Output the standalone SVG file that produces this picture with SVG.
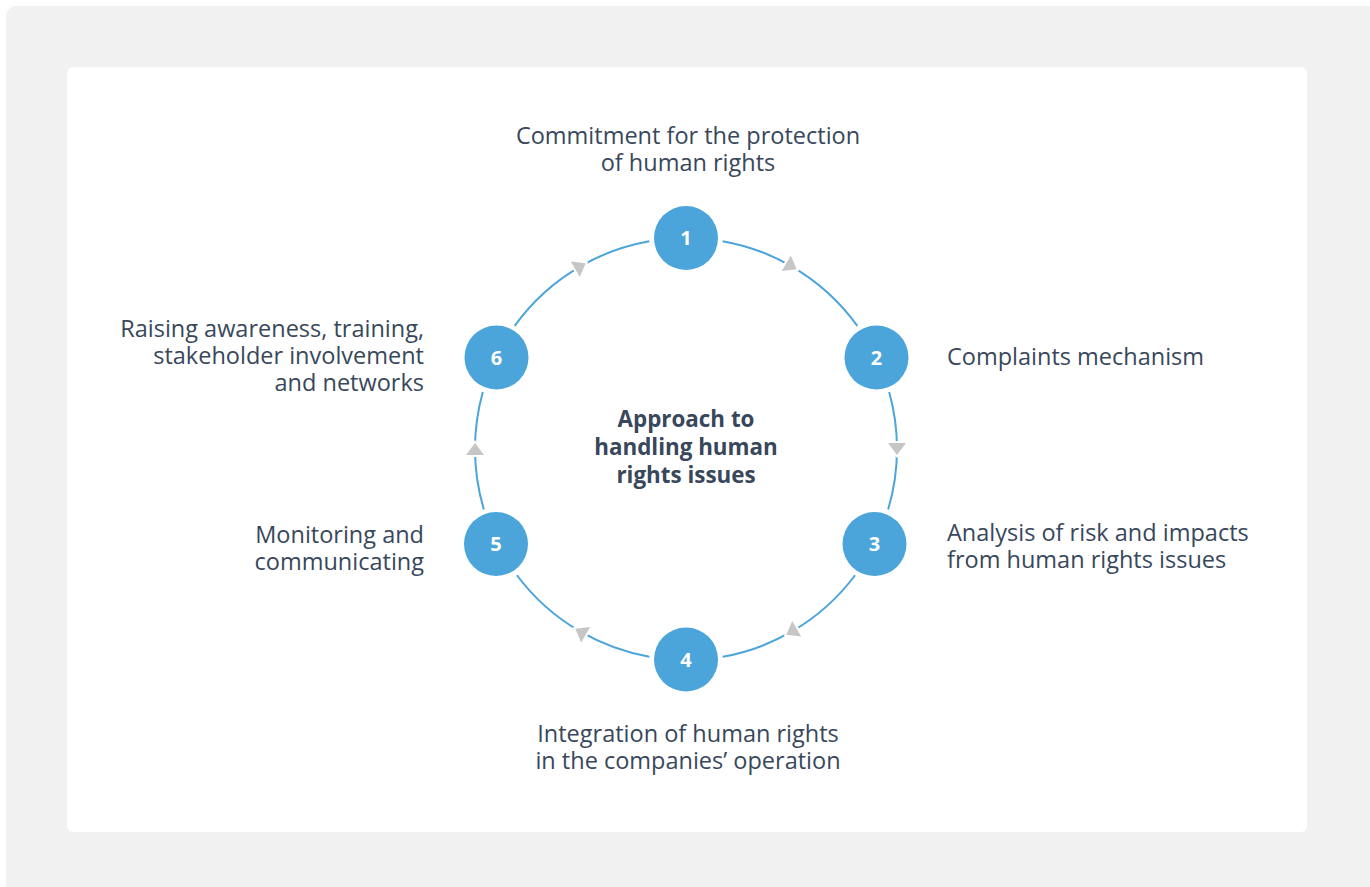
<svg xmlns="http://www.w3.org/2000/svg" width="1370" height="887" viewBox="0 0 1370 887">
  <style>
    .lbl { font-family: "Open Sans", "Liberation Sans", sans-serif; font-size: 23.5px; fill: #38475b; }
    .ctr { font-family: "Open Sans", "Liberation Sans", sans-serif; font-size: 22.4px; font-weight: bold; fill: #38475b; text-anchor: middle; }
    .node circle { fill: #4ba4da; }
    .num { font-family: "Open Sans", "Liberation Sans", sans-serif; font-size: 20px; font-weight: bold; fill: #ffffff; text-anchor: middle; }
    .arc { fill: none; stroke: #4ba4da; stroke-width: 2; marker-mid: url(#arr); }
  </style>
  <defs>
    <marker id="arr" markerUnits="userSpaceOnUse" markerWidth="30" markerHeight="30" viewBox="-15 -15 30 30" refX="0" refY="0" orient="auto" overflow="visible">
      <polygon points="9,0 -8,-12 -8,12" fill="#ffffff"/>
      <polygon points="6,0 -6,-9 -6,9" fill="#c6c6c6"/>
    </marker>
  </defs>
  <rect x="6" y="6" width="1380" height="900" rx="10" fill="#f1f1f1"/>
  <rect x="67" y="67" width="1240" height="765" rx="6" fill="#ffffff"/>

  <g id="connectors">
    <path class="arc" d="M722.64,241.21 A211,211 0 0 1 791.5,266.27 A211,211 0 0 1 857.35,325.87"/>
    <path class="arc" d="M889.18,392.08 A211,211 0 0 1 897,449 A211,211 0 0 1 888.15,509.46"/>
    <path class="arc" d="M855.06,575.25 A211,211 0 0 1 791.5,631.73 A211,211 0 0 1 722.64,656.79"/>
    <path class="arc" d="M649.36,656.79 A211,211 0 0 1 580.5,631.73 A211,211 0 0 1 516.94,575.25"/>
    <path class="arc" d="M483.85,509.46 A211,211 0 0 1 475,449 A211,211 0 0 1 482.82,392.08"/>
    <path class="arc" d="M514.65,325.87 A211,211 0 0 1 580.5,266.27 A211,211 0 0 1 649.36,241.21"/>
  </g>

  <g id="center-label">
    <text class="ctr" x="686" y="427">Approach to</text>
    <text class="ctr" x="686" y="455">handling human</text>
    <text class="ctr" x="686" y="483">rights issues</text>
  </g>

  <g id="node1" class="node">
    <circle cx="686" cy="238" r="32"/>
    <text class="num" x="686" y="245">1</text>
    <text class="lbl" x="688" y="144" text-anchor="middle">Commitment for the protection</text>
    <text class="lbl" x="688" y="171" text-anchor="middle">of human rights</text>
  </g>
  <g id="node2" class="node">
    <circle cx="876.5" cy="357.5" r="32"/>
    <text class="num" x="876.5" y="364.5">2</text>
    <text class="lbl" x="947" y="365">Complaints mechanism</text>
  </g>
  <g id="node3" class="node">
    <circle cx="874.5" cy="544" r="32"/>
    <text class="num" x="874.5" y="551">3</text>
    <text class="lbl" x="947" y="541">Analysis of risk and impacts</text>
    <text class="lbl" x="947" y="568">from human rights issues</text>
  </g>
  <g id="node4" class="node">
    <circle cx="686" cy="659.5" r="32"/>
    <text class="num" x="686" y="666.5">4</text>
    <text class="lbl" x="688" y="742" text-anchor="middle">Integration of human rights</text>
    <text class="lbl" x="688" y="769" text-anchor="middle">in the companies’ operation</text>
  </g>
  <g id="node5" class="node">
    <circle cx="496" cy="544" r="32"/>
    <text class="num" x="496" y="551">5</text>
    <text class="lbl" x="424" y="543" text-anchor="end">Monitoring and</text>
    <text class="lbl" x="424" y="570" text-anchor="end">communicating</text>
  </g>
  <g id="node6" class="node">
    <circle cx="496.5" cy="357.5" r="32"/>
    <text class="num" x="496.5" y="364.5">6</text>
    <text class="lbl" x="424" y="337" text-anchor="end">Raising awareness, training,</text>
    <text class="lbl" x="424" y="364" text-anchor="end">stakeholder involvement</text>
    <text class="lbl" x="424" y="391" text-anchor="end">and networks</text>
  </g>
</svg>
